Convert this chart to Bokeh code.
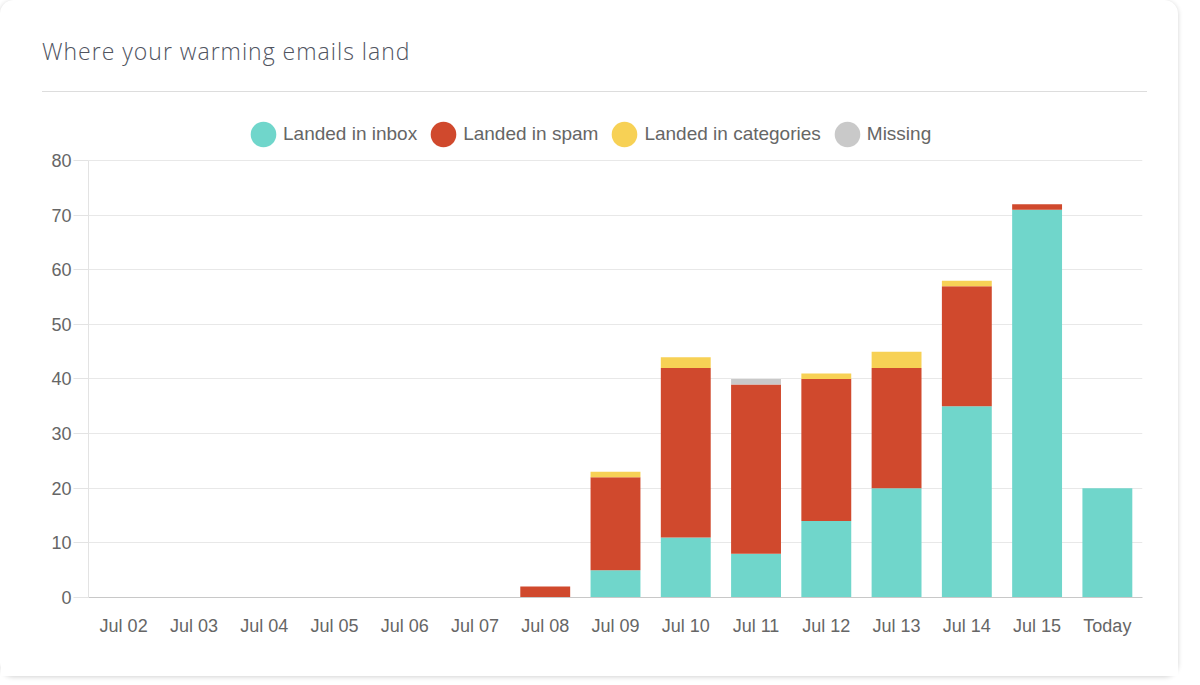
from bokeh.embed import file_html
from bokeh.layouts import column
from bokeh.models import (ColumnDataSource, Div, FactorRange, Legend,
                          LegendItem, Range1d, SingleIntervalTicker)
from bokeh.plotting import figure
from bokeh.resources import INLINE

days = ["Jul 02", "Jul 03", "Jul 04", "Jul 05", "Jul 06", "Jul 07", "Jul 08",
        "Jul 09", "Jul 10", "Jul 11", "Jul 12", "Jul 13", "Jul 14", "Jul 15",
        "Today"]
inbox = [0, 0, 0, 0, 0, 0, 0, 5, 11, 8, 14, 20, 35, 71, 20]
spam = [0, 0, 0, 0, 0, 0, 2, 17, 31, 31, 26, 22, 22, 1, 0]
categories = [0, 0, 0, 0, 0, 0, 0, 1, 2, 0, 1, 3, 1, 0, 0]
missing = [0, 0, 0, 0, 0, 0, 0, 0, 0, 1, 0, 0, 0, 0, 0]

series = ["inbox", "spam", "categories", "missing"]
labels = ["Landed in inbox", "Landed in spam", "Landed in categories", "Missing"]
colors = ["#70d6cb", "#d0492d", "#f7d155", "#c9c9c9"]

source = ColumnDataSource(data=dict(days=days, inbox=inbox, spam=spam,
                                    categories=categories, missing=missing))

TEXT = "#666666"
FONT = "Liberation Sans"

# extra room above 80 holds the legend, axis and grid stop at 80
p = figure(x_range=FactorRange(*days, range_padding=0),
           y_range=Range1d(0, 90.8),
           width=1178, height=583,
           output_backend="svg", toolbar_location=None,
           min_border_left=88, min_border_right=36,
           min_border_top=8, min_border_bottom=79)

p.vbar_stack(series, x="days", width=0.71, color=colors, line_width=0,
             source=source)

# round legend markers: tiny ellipses, the legend draws them full size
legend_items = []
for s, lab, col in zip(series, labels, colors):
    r = p.ellipse(x="days", y=s, width=0.01, height=0.01,
                  width_units="screen", height_units="screen",
                  fill_color=col, line_color=None, source=source)
    legend_items.append(LegendItem(label=lab, renderers=[r]))

legend = Legend(items=legend_items, orientation="horizontal",
                location=(159, 447),
                glyph_width=32, glyph_height=32,
                label_standoff=4, spacing=10,
                padding=0, margin=0,
                label_text_font=FONT, label_text_font_size="19px",
                label_text_color=TEXT,
                background_fill_alpha=0, border_line_color=None)
p.add_layout(legend, "center")

p.outline_line_color = None
p.background_fill_color = "white"
p.border_fill_color = "white"

p.xgrid.grid_line_color = None
p.ygrid.grid_line_color = "#e8e8e8"
p.ygrid.ticker = SingleIntervalTicker(interval=10)
p.ygrid.bounds = (0, 80)

p.yaxis.ticker = SingleIntervalTicker(interval=10)
p.yaxis.bounds = (0, 80)
p.yaxis.axis_line_color = "#e3e3e3"
p.yaxis.major_tick_line_color = "#e3e3e3"
p.yaxis.major_tick_out = 15
p.yaxis.major_tick_in = 0
p.yaxis.minor_tick_line_color = None
p.yaxis.major_label_standoff = 2

p.xaxis.axis_line_color = "#c8c8c8"
p.xaxis.major_tick_line_color = None
p.xaxis.major_tick_out = 0
p.xaxis.major_label_standoff = 18

for ax in (p.xaxis, p.yaxis):
    ax.major_label_text_font = FONT
    ax.major_label_text_font_size = "18px"
    ax.major_label_text_color = TEXT

title = Div(text="Where your warming emails land",
            width=1105, height=92, margin=(0, 0, 0, 42),
            styles={"font-family": "Open Sans", "font-size": "23px",
                    "font-weight": "300", "letter-spacing": "1px",
                    "color": "#50545f", "padding-top": "35px",
                    "box-sizing": "border-box",
                    "border-bottom": "1px solid #dddddd"})

page = column(title, p, spacing=1,
              styles={"border-radius": "14px", "background": "white",
                      "box-shadow": "0 1px 5px rgba(0,0,0,0.18)"})

open("out.html", "w").write(file_html(page, INLINE))
